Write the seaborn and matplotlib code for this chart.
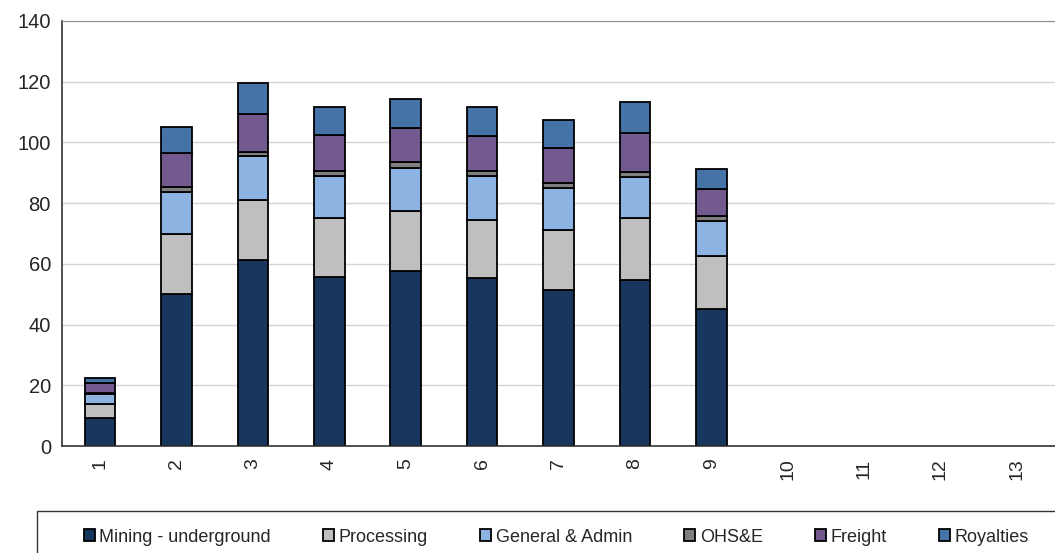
import numpy as np
import matplotlib.pyplot as plt
from matplotlib.patches import Rectangle
import seaborn as sns

# Periods on the x axis (10-13 have no data)
periods = [str(i) for i in range(1, 14)]
data_periods = periods[:9]

# Cost components
mining = [9.2, 50.2, 61.4, 55.6, 57.8, 55.4, 51.5, 54.7, 45.2]
processing = [4.8, 19.7, 19.8, 19.5, 19.6, 19.2, 19.6, 20.4, 17.5]
general_admin = [3.1, 13.9, 14.2, 13.7, 14.2, 14.3, 13.8, 13.4, 11.4]
ohse = [0.5, 1.5, 1.5, 1.7, 2.0, 1.8, 1.7, 1.8, 1.6]
freight = [3.0, 11.3, 12.4, 12.1, 11.3, 11.5, 11.7, 12.8, 9.1]
royalties = [1.8, 8.5, 10.2, 9.2, 9.4, 9.4, 9.2, 10.2, 6.6]

series = [
    ("Mining - underground", mining, "#17375E"),
    ("Processing", processing, "#BFBFBF"),
    ("General & Admin", general_admin, "#8DB3E2"),
    ("OHS&E", ohse, "#7F7F7F"),
    ("Freight", freight, "#735A8E"),
    ("Royalties", royalties, "#4673A7"),
]

sns.set_style("white")
plt.rcParams["font.family"] = ["Liberation Sans", "DejaVu Sans"]

fig = plt.figure(figsize=(10.55, 5.53), dpi=100)
ax = fig.add_axes([62 / 1055, 107 / 553, 1 - 62 / 1055, 425 / 553])

bottom = np.zeros(len(data_periods))
for name, vals, col in series:
    sns.barplot(x=data_periods, y=vals, order=periods, bottom=bottom,
                color=col, edgecolor="black", linewidth=1.3, width=0.4,
                errorbar=None, label=name, saturation=1, ax=ax)
    bottom = bottom + np.array(vals)
if ax.get_legend() is not None:
    ax.get_legend().remove()

ax.set_ylim(0, 140)
ax.set_xlim(-0.5, 12.5)
ax.set_yticks(range(0, 141, 20))
ax.yaxis.grid(True, color="#D4D4D4", linewidth=1)
ax.set_axisbelow(True)
ax.set_xlabel("")
ax.set_ylabel("")

# ticks between categories, labels at centres
ax.set_xticks(np.arange(-0.5, 12.6, 1), minor=True)
ax.tick_params(axis="x", which="major", length=0, pad=9, labelsize=14, labelrotation=90)
ax.tick_params(axis="x", which="minor", length=6, width=1, color="#333333", direction="out")
ax.tick_params(axis="y", length=6, width=1, color="#333333", direction="out", labelsize=14.5, pad=2)

for s in ["left", "bottom"]:
    ax.spines[s].set_color("#333333")
    ax.spines[s].set_linewidth(1.2)
ax.spines["top"].set_color("#8C8C8C")
ax.spines["right"].set_visible(False)

# legend frame box, running off the right and bottom edges
fig.patches.append(Rectangle((37 / 1055, -0.05), 1.0, 0.05 + 42 / 553, transform=fig.transFigure,
                             fill=False, edgecolor="#333333", linewidth=1.0))

handles, labels = ax.get_legend_handles_labels()
leg = fig.legend(handles, labels, loc="center left", bbox_to_anchor=(84 / 1055, 1 - 537 / 553),
                 ncol=6, frameon=False, fontsize=13,
                 handlelength=0.6, handleheight=0.6, handletextpad=0.25,
                 columnspacing=2.9, borderpad=0, borderaxespad=0)

fig.savefig("out.png", dpi=100)
